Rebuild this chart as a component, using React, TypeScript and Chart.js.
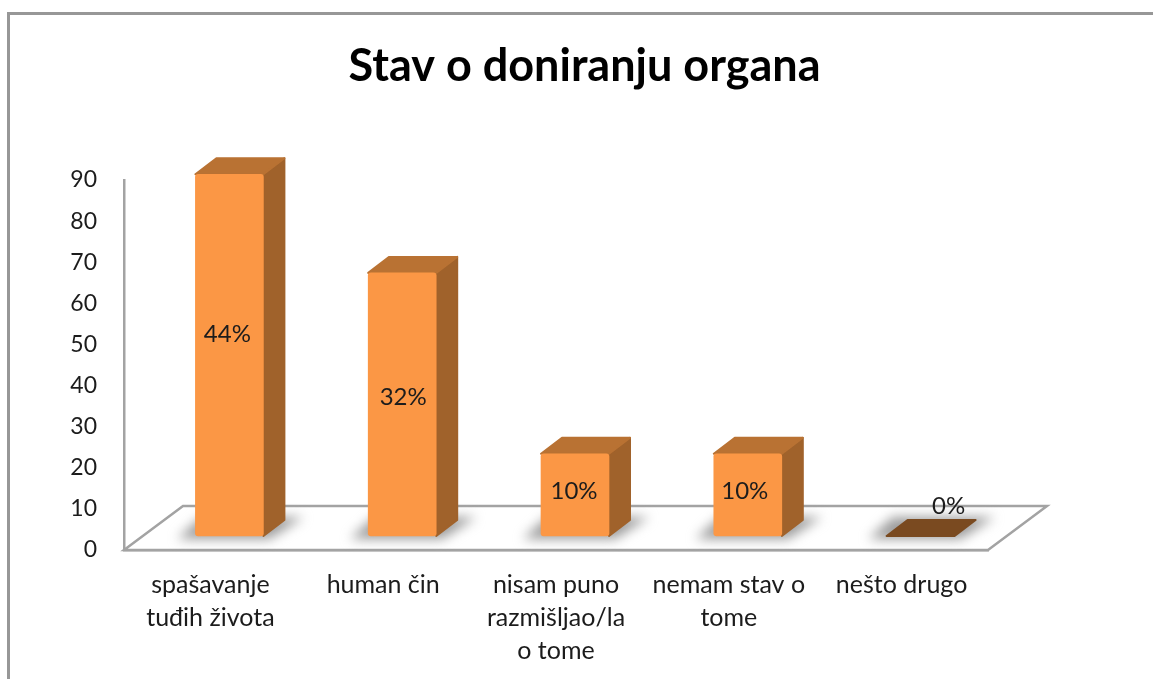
import React, { useEffect, useRef } from "react";
import { Chart, registerables } from "chart.js";

Chart.register(...registerables);

const titleText = "Stav o doniranju organa";
const categories = [
  ["spašavanje", "tuđih života"],
  ["human čin"],
  ["nisam puno", "razmišljao/la", "o tome"],
  ["nemam stav o", "tome"],
  ["nešto drugo"],
];
const counts = [88, 64, 20, 20, 0];
const percentLabels = ["44%", "32%", "10%", "10%", "0%"];
const yMax = 90;
const yStep = 10;

const FONT = "Lato, 'Open Sans', sans-serif";
const TEXT = "#1c1c1c";
const AXIS = "#a3a3a3";
const FRONT = "#fb9745";
const TOP = "#b97233";
const SIDE = "#a0622b";
const FLAT = "#7a4a20";

// 3D projection constants
const floorDx = 59;
const floorDy = -44;
const barShiftX = 19;
const barShiftY = -14;
const depthX = 21;
const depthY = -16;
const labelLift = [21, 7, 4, 4, 30];
const labelShift = [-2, 1, -1, -3, 28];

function poly(ctx: CanvasRenderingContext2D, pts: number[][]) {
  ctx.beginPath();
  pts.forEach((p, i) => (i ? ctx.lineTo(p[0], p[1]) : ctx.moveTo(p[0], p[1])));
  ctx.closePath();
}

const threeD = {
  id: "threeD",
  afterLayout(chart: any) {
    if (chart.titleBlock) {
      chart.titleBlock.left = 16;
      chart.titleBlock.right = chart.width;
    }
  },
  beforeDatasetsDraw(chart: any) {
    const { ctx, chartArea: a } = chart;
    const meta = chart.getDatasetMeta(0);
    ctx.save();
    // floor
    ctx.strokeStyle = AXIS;
    ctx.lineWidth = 2.5;
    poly(ctx, [
      [a.left, a.bottom],
      [a.left + floorDx, a.bottom + floorDy],
      [a.right + floorDx, a.bottom + floorDy],
      [a.right, a.bottom],
    ]);
    ctx.stroke();
    ctx.restore();
    // shadows
    meta.data.forEach((bar: any) => {
      const p = bar.getProps(["x", "base", "width"], true);
      const l = p.x - p.width / 2 + barShiftX;
      const r = p.x + p.width / 2 + barShiftX;
      const b = p.base + barShiftY;
      ctx.save();
      ctx.filter = "blur(6px)";
      ctx.fillStyle = "#9c9c9c";
      poly(ctx, [
        [l - 18, b + 3],
        [r + 6, b + 3],
        [r + 40, b - 19],
        [l + 6, b - 19],
      ]);
      ctx.fill();
      ctx.restore();
    });
    // side and top faces
    meta.data.forEach((bar: any, i: number) => {
      const p = bar.getProps(["x", "y", "base", "width"], true);
      const l = p.x - p.width / 2 + barShiftX;
      const r = p.x + p.width / 2 + barShiftX;
      const t = p.y + barShiftY;
      const b = p.base + barShiftY;
      ctx.save();
      ctx.lineJoin = "round";
      ctx.lineWidth = 2;
      if (counts[i] > 0) {
        ctx.fillStyle = ctx.strokeStyle = SIDE;
        poly(ctx, [
          [r, t],
          [r + depthX, t + depthY],
          [r + depthX, b + depthY],
          [r, b],
        ]);
        ctx.fill();
        ctx.stroke();
      }
      ctx.fillStyle = ctx.strokeStyle = counts[i] > 0 ? TOP : FLAT;
      poly(ctx, [
        [l, t],
        [l + depthX, t + depthY],
        [r + depthX, t + depthY],
        [r, t],
      ]);
      ctx.fill();
      ctx.stroke();
      ctx.restore();
    });
    ctx.save();
    ctx.translate(barShiftX, barShiftY);
  },
  afterDatasetsDraw(chart: any) {
    const { ctx } = chart;
    ctx.restore();
    const meta = chart.getDatasetMeta(0);
    ctx.save();
    ctx.font = `24px ${FONT}`;
    ctx.fillStyle = TEXT;
    ctx.textAlign = "center";
    ctx.textBaseline = "middle";
    meta.data.forEach((bar: any, i: number) => {
      const p = bar.getProps(["x", "y", "base"], true);
      const cx = p.x + barShiftX + labelShift[i];
      const cy = (p.y + p.base) / 2 + barShiftY - labelLift[i];
      ctx.fillText(percentLabels[i], cx, cy);
    });
    ctx.restore();
  },
};

export default function App() {
  const ref = useRef<HTMLCanvasElement>(null);
  useEffect(() => {
    document.body.style.margin = "0";
    document.body.style.background = "#fff";
    const chart = new Chart(ref.current as HTMLCanvasElement, {
      type: "bar",
      data: {
        labels: categories as any,
        datasets: [
          {
            data: counts,
            backgroundColor: counts.map((v) => (v > 0 ? FRONT : "rgba(0,0,0,0)")),
            barThickness: 68,
            borderRadius: 3,
            borderSkipped: false,
            clip: false as any,
          },
        ],
      },
      options: {
        responsive: false,
        animation: false,
        layout: { padding: { left: 16, right: 165, top: 0, bottom: 0 } },
        plugins: {
          legend: { display: false },
          tooltip: { enabled: false },
          title: {
            display: true,
            text: titleText,
            color: "#000",
            font: { family: FONT, size: 45, weight: "bold" },
            padding: { top: 39, bottom: 87 },
          },
        },
        scales: {
          x: {
            grid: { display: false, drawTicks: false },
            border: { display: true, color: AXIS, width: 2.5 },
            afterFit: (s: any) => {
              s.height = 129;
            },
            ticks: {
              autoSkip: false,
              maxRotation: 0,
              minRotation: 0,
              padding: 18,
              color: TEXT,
              font: { family: FONT, size: 25, lineHeight: 1.32 },
            },
          },
          y: {
            min: 0,
            max: yMax,
            grid: { display: false, drawTicks: false },
            border: { display: true, color: AXIS, width: 2.5 },
            afterFit: (s: any) => {
              s.width = 108;
            },
            ticks: {
              stepSize: yStep,
              padding: 27,
              color: TEXT,
              font: { family: FONT, size: 23 },
            },
          },
        },
      },
      plugins: [threeD],
    } as any);
    return () => chart.destroy();
  }, []);
  return (
    <div style={{ position: "absolute", left: 0, top: 0, width: 1153, height: 679, overflow: "hidden", background: "#fff" }}>
      <div
        style={{
          position: "absolute",
          left: 7,
          top: 12,
          right: 0,
          bottom: 0,
          borderLeft: "3px solid #979797",
          borderTop: "3px solid #979797",
        }}
      />
      <canvas ref={ref} width={1153} height={679} style={{ position: "absolute", left: 0, top: 0, display: "block" }} />
    </div>
  );
}
